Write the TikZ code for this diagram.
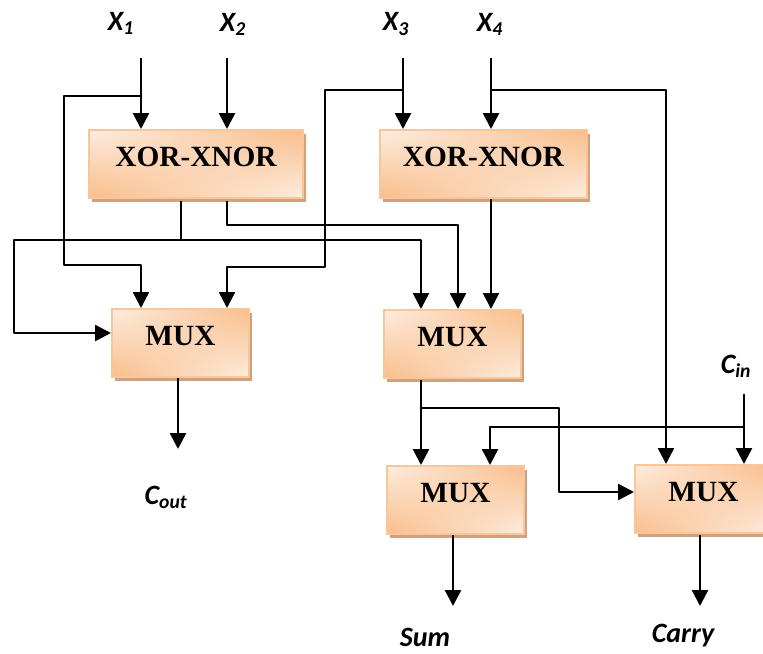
\documentclass[tikz,border=0pt]{standalone}
\usepackage{fontspec}
\setmainfont{Liberation Serif}
\newfontfamily\sigfont{Carlito}
\usetikzlibrary{arrows.meta,shadows,shadings}
\definecolor{boxlight}{HTML}{FDEDE0}
\definecolor{boxdark}{HTML}{F9BD8A}
\definecolor{boxedge}{HTML}{FAC598}
\definecolor{boxshadow}{HTML}{CDA280}

\begin{document}
\begin{tikzpicture}[x=0.75pt,y=-0.75pt,
        main node/.style={rectangle,shade,upper left=boxlight,upper right=boxdark,lower left=boxdark,lower right=boxlight,
                draw=boxedge,line width=1.5pt,inner sep=0pt,anchor=north west,text width=#1*0.75pt-3pt,align=center,
                minimum width=#1*0.75pt-1.5pt,minimum height=51pt,text height=15pt,text depth=12pt,
                font=\fontsize{22}{24}\selectfont\bfseries,
                general shadow={shadow xshift=2.5pt,shadow yshift=-3pt,fill=boxshadow}},
        sig node/.style={font=\fontsize{21}{24}\selectfont\sigfont\bfseries\itshape,inner sep=0pt},
        wire/.style={line width=1.9pt,line join=round},
        arrow wire/.style={wire,-{Triangle[length=12pt,width=12pt]}}]
        \useasboundingbox (0,0) rectangle (763,653);
                %nodes
                \node[main node=216] (xor1) at (88,129) {XOR-XNOR};
                \node[main node=209] (xor2) at (379,129) {XOR-XNOR};
                \node[main node=139] (mux1) at (111,308) {MUX};
                \node[main node=139] (mux2) at (383,309) {MUX};
                \node[main node=139] (mux3) at (386,465) {MUX};
                \node[main node=139] (mux4) at (634,464) {MUX};
                \node[sig node] (x1) at (121,23) {X\textsubscript{1}};
                \node[sig node] (x2) at (233,24) {X\textsubscript{2}};
                \node[sig node] (x3) at (396,24) {X\textsubscript{3}};
                \node[sig node] (x4) at (490,24) {X\textsubscript{4}};
                \node[sig node] (cin) at (736,366) {C\textsubscript{in}};
                \node[sig node] (cout) at (166,497) {C\textsubscript{out}};
                \node[sig node] (sum) at (425,637) {Sum};
                \node[sig node] (carry) at (683,636) {Carry};
                %free ends
                \coordinate (x1 in) at (141,58);
                \coordinate (x2 in) at (227,58);
                \coordinate (x3 in) at (403,58);
                \coordinate (x4 in) at (491,58);
                \coordinate (cin in) at (744,394);
                \coordinate (cout end) at (178,449);
                \coordinate (sum end) at (453,606);
                \coordinate (carry end) at (700,606);
                \coordinate (x1 tap) at (141,96);
                \coordinate (x3 tap) at (403,90);
                \coordinate (x4 tap) at (491,90);
                \coordinate (eq tap) at (181,240);
                \coordinate (sel tap) at (421,408);
                \coordinate (cin tap) at (744,427);
                %Edges
                \draw[arrow wire] (x1 in) -- (x1 in |- xor1.north);
                \draw[arrow wire] (x2 in) -- (x2 in |- xor1.north);
                \draw[arrow wire] (x3 in) -- (x3 in |- xor2.north);
                \draw[arrow wire] (x4 in) -- (x4 in |- xor2.north);
                \draw[arrow wire] (x1 tap) -- (64,96) -- (64,265) -- (141,265) -- (141,308);
                \draw[arrow wire] (x3 tap) -- (325,90) -- (325,267) -- (227,267) -- (227,308);
                \draw[arrow wire] (x4 tap) -- (666,90) -- (666,464);
                \draw[wire] (181,201) -- (eq tap);
                \draw[arrow wire] (eq tap) -- (421,240) -- (421,309);
                \draw[arrow wire] (eq tap) -- (14,240) -- (14,333) -- (mux1.west |- 0,333);
                \draw[arrow wire] (227,201) -- (227,225) -- (458,225) -- (458,309);
                \draw[arrow wire] (491,199) -- (491,309);
                \draw[arrow wire] (178,378) -- (cout end);
                \draw[arrow wire] (421,380) -- (421,465);
                \draw[arrow wire] (sel tap) -- (559,408) -- (559,492) -- (mux4.west |- 0,492);
                \draw[arrow wire] (cin in) -- (cin in |- mux4.north);
                \draw[arrow wire] (cin tap) -- (490,427) -- (490,465);
                \draw[arrow wire] (453,535) -- (sum end);
                \draw[arrow wire] (700,535) -- (carry end);
\end{tikzpicture}
\end{document}
